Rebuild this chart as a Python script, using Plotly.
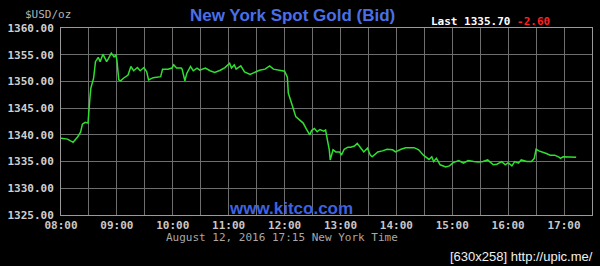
import plotly.graph_objects as go

times = ["08:00","08:07","08:13","08:18","08:21","08:23","08:26","08:29","08:31","08:32",
         "08:35","08:37","08:40","08:42","08:45","08:49","08:51","08:54","08:57","08:59",
         "09:00","09:02","09:04","09:07","09:12","09:15","09:18","09:22","09:25","09:29",
         "09:32","09:34","09:39","09:45","09:47","09:49","09:55","09:59","10:01","10:04",
         "10:09","10:10","10:13","10:15","10:19","10:22","10:26","10:29","10:35","10:40",
         "10:45","10:51","10:56","11:01","11:03","11:06","11:08","11:13","11:17","11:23",
         "11:28","11:33","11:39","11:44","11:48","11:53","11:56","12:00","12:03","12:04",
         "12:07","12:10","12:12","12:16","12:20","12:23","12:27","12:29","12:32","12:35",
         "12:38","12:42","12:44","12:46","12:48","12:49","12:52","12:55","12:59","13:01",
         "13:04","13:08","13:11","13:15","13:18","13:22","13:25","13:29","13:32","13:34",
         "13:40","13:45","13:50","13:56","13:59","14:05","14:10","14:19","14:24","14:29",
         "14:35","14:38","14:40","14:43","14:47","14:53","14:57","15:01","15:07","15:12",
         "15:17","15:23","15:28","15:33","15:38","15:42","15:44","15:48","15:53","15:57",
         "16:00","16:04","16:07","16:11","16:14","16:20","16:25","16:28","16:30","16:33",
         "16:37","16:41","16:45","16:50","16:55","16:56","16:59","17:13"]
bids = [1339.35,1339.2,1338.6,1339.65,1340.5,1342.0,1342.35,1342.2,1346.8,1348.7,
        1350.6,1353.7,1354.5,1353.7,1355.1,1353.7,1354.3,1355.3,1354.6,1354.9,
        1354.0,1350.3,1350.1,1350.6,1351.2,1352.8,1352.0,1352.6,1352.0,1352.6,
        1351.8,1350.3,1350.7,1350.8,1350.9,1352.3,1352.3,1352.5,1353.1,1352.5,
        1352.5,1352.3,1350.1,1351.5,1352.8,1352.0,1352.5,1352.1,1352.5,1352.0,
        1351.7,1352.1,1352.6,1353.4,1352.5,1353.1,1352.3,1352.9,1351.8,1351.3,
        1351.7,1352.1,1352.3,1352.9,1352.3,1352.1,1352.0,1351.9,1350.8,1347.8,
        1346.2,1344.3,1343.4,1342.8,1342.2,1341.2,1340.0,1340.8,1341.2,1340.6,
        1341.0,1340.7,1340.9,1339.0,1337.2,1335.3,1337.2,1336.8,1336.8,1336.2,
        1337.3,1337.7,1337.7,1337.9,1338.4,1337.5,1336.8,1337.5,1336.2,1335.9,
        1336.8,1337.0,1337.3,1337.2,1336.8,1337.3,1337.6,1337.6,1337.2,1336.2,
        1335.4,1335.9,1335.0,1335.6,1334.4,1334.0,1334.2,1334.8,1335.2,1334.7,
        1335.2,1335.0,1334.9,1335.0,1335.3,1334.7,1334.4,1334.5,1335.0,1334.4,
        1334.8,1334.2,1335.0,1334.7,1335.3,1335.0,1335.0,1335.6,1337.3,1337.0,
        1336.8,1336.5,1336.2,1336.2,1335.8,1335.6,1335.9,1335.8]

date = "2016-08-12 "
grid_times = ["08:00","08:30","09:00","09:30","10:00","10:30","11:00","11:30","12:00","12:30",
              "13:00","13:30","14:00","14:30","15:00","15:30","16:00","16:30","17:00","17:30"]
hour_labels = ["08:00","09:00","10:00","11:00","12:00","13:00","14:00","15:00","16:00","17:00"]
y_ticks = [1325, 1330, 1335, 1340, 1345, 1350, 1355, 1360]

title_text = "New York Spot Gold (Bid)"
unit_text = "$USD/oz"
last_price = "1335.70"
change = "-2.60"
site_text = "www.kitco.com"
stamp_text = "August 12, 2016 17:15 New York Time"
upic_text = "[630x258] http://upic.me/"

x = [date + t for t in times]
tickvals = [date + t for t in grid_times]
ticktext = [t if t in hour_labels else "" for t in grid_times]

fig = go.Figure()
fig.add_trace(go.Scatter(x=x, y=bids, mode="lines",
                         line=dict(color="#2fe02f", width=1.5), hoverinfo="skip"))

mono = "DejaVu Sans Mono"
grid_col = "#6e6e6e"
fig.update_layout(
    width=600, height=266,
    margin=dict(l=58, r=7, t=28, b=51),
    paper_bgcolor="black", plot_bgcolor="black",
    showlegend=False,
    xaxis=dict(range=[date + "08:00", date + "17:30"], tickvals=tickvals, ticktext=ticktext,
               showgrid=True, gridcolor=grid_col, gridwidth=1,
               showline=True, linecolor="#9a9a9a", linewidth=1, mirror=True,
               ticks="", zeroline=False,
               tickfont=dict(family=mono, size=11, color="#c8c8c8", weight="bold")),
    yaxis=dict(range=[1325, 1360], tickvals=y_ticks, tickformat=".2f",
               showgrid=True, gridcolor=grid_col, gridwidth=1,
               showline=True, linecolor="#9a9a9a", linewidth=1, mirror=True,
               ticks="", zeroline=False, ticklabelstandoff=4,
               tickfont=dict(family=mono, size=11, color="#d0d0d0", weight="bold")),
)

def px(xp):
    return (xp - 58) / 535.0

def py(yp):
    return (215 - yp) / 187.0

ann = [
    dict(text=title_text, x=px(291), y=py(16), xanchor="center", yanchor="middle",
         font=dict(family="Liberation Sans", size=17, color="#4a6fe6", weight="bold")),
    dict(text=unit_text, x=px(20), y=py(15), xanchor="left", yanchor="middle",
         font=dict(family=mono, size=11, color="#b4b4b4")),
    dict(text="Last " + last_price + " <span style='color:#ff2020'>" + change + "</span>",
         x=px(429), y=py(21), xanchor="left", yanchor="middle",
         font=dict(family=mono, size=11, color="white", weight="bold")),
    dict(text=site_text, x=px(290), y=py(208), xanchor="center", yanchor="middle",
         font=dict(family="Liberation Sans", size=17, color="#3d63e3", weight="bold")),
    dict(text=stamp_text, x=px(281), y=py(237), xanchor="center", yanchor="middle",
         font=dict(family=mono, size=11, color="#a8a8a8")),
    dict(text=upic_text, x=px(596), y=py(256), xanchor="right", yanchor="middle",
         font=dict(family="Liberation Sans", size=13, color="#f0f0f0")),
]
for a in ann:
    a.update(xref="paper", yref="paper", showarrow=False)
fig.update_layout(annotations=ann)

fig.write_html("out.html")
